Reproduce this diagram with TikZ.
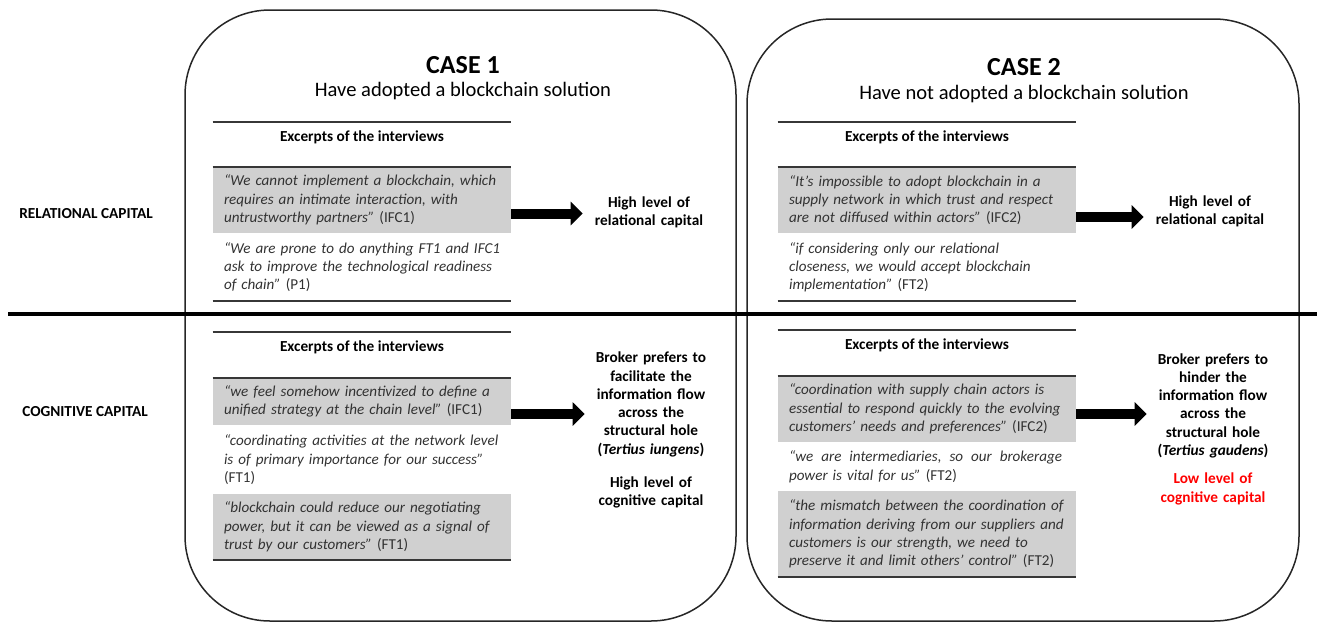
\documentclass[tikz,border=0pt]{standalone}
\usepackage{fontspec}
\setmainfont{Carlito}
\usetikzlibrary{arrows.meta, positioning}
\definecolor{rowgrey}{RGB}{208,208,208}
\definecolor{quotegrey}{RGB}{50,50,50}
\definecolor{rulegrey}{RGB}{55,55,55}

\begin{document}
\begin{tikzpicture}[x=0.02cm, y=-0.02cm]
	% Setup the styles for the boxes, the rows and the arrows
	\tikzset{case box/.style={draw=black!85, line width=0.03cm, rounded corners=1.7cm},
		label text/.style={font=\fontsize{8.7}{10.4}\selectfont\bfseries},
		excerpt head/.style={label text, minimum width=5.96cm, minimum height=0.6cm, inner sep=0pt},
		row/.style={text width=5.52cm, inner xsep=0.22cm, inner ysep=0pt, align=left,
			text=quotegrey, font=\fontsize{8.6}{10.4}\selectfont,
			execute at begin node={\rightskip=0pt plus 1fil minus 2cm\relax}},
		grey row/.style={row, fill=rowgrey},
		result/.style={label text, text width=2.3cm, inner sep=0pt, align=center},
		thin rule/.style={draw=rulegrey, line width=0.03cm},
		thick rule/.style={draw=rulegrey, line width=0.045cm},
		fat arrow/.style={line width=0.2cm, -{Triangle[length=0.24cm, width=0.46cm]}, shorten >=0.17cm}}
	
	\useasboundingbox (0,0) rectangle (1317,622);
	
	% the two cases
	\draw[case box] (185,10) rectangle (736,621);
	\draw[case box] (747,19) rectangle (1299,621);
	\draw[line width=0.07cm] (8,314) -- (1317,314);
	
	\node[font=\fontsize{14.8}{17}\selectfont\bfseries] (t1) at (463,65) {CASE 1};
	\node[font=\fontsize{11.7}{14}\selectfont] (s1) at (463,91) {Have adopted a blockchain solution};
	\node[font=\fontsize{14.8}{17}\selectfont\bfseries] (t2) at (1024,67) {CASE 2};
	\node[font=\fontsize{11.7}{14}\selectfont] (s2) at (1024,94) {Have not adopted a blockchain solution};
	
	\node[label text] (rel) at (86,214) {RELATIONAL CAPITAL};
	\node[label text] (cog) at (85,412) {COGNITIVE CAPITAL};
	
	% relational capital, case 1
	\node[excerpt head, anchor=north] (h1) at (362,122) {Excerpts of the interviews};
	\node[grey row, below=0.28cm of h1, minimum height=1.32cm] (q1)
		{\textit{“We cannot implement a blockchain, which\\requires an intimate interaction, with\\untrustworthy partners”} (IFC1)};
	\node[row, below=0pt of q1, minimum height=1.34cm] (q2)
		{\textit{“We are prone to do anything FT1 and IFC1\\ask to improve the technological readiness\\of chain”} (P1)};
	\node[result] (r1) at (649,212.5) {High level of\\relational capital};
	
	% relational capital, case 2
	\node[excerpt head, anchor=north] (h2) at (927,122) {Excerpts of the interviews};
	\node[grey row, below=0.28cm of h2, minimum height=1.32cm] (q3)
		{\textit{“It’s impossible to adopt blockchain in a\\supply network in which trust and respect\\are not diffused within actors”} (IFC2)};
	\node[row, below=0pt of q3, minimum height=1.34cm] (q4)
		{\textit{“if considering only our relational\\closeness, we would accept blockchain\\implementation”} (FT2)};
	\node[result] (r2) at (1210,211) {High level of\\relational capital};
	
	% cognitive capital, case 1
	\node[excerpt head, anchor=north] (h3) at (362,332) {Excerpts of the interviews};
	\node[grey row, below=0.3cm of h3, minimum height=0.94cm] (q5)
		{\textit{“we feel somehow incentivized to define a\\unified strategy at the chain level”} (IFC1)};
	\node[row, below=0pt of q5, minimum height=1.36cm] (q6)
		{\textit{“coordinating activities at the network level\\is of primary importance for our success”}\\(FT1)};
	\node[grey row, below=0pt of q6, minimum height=1.3cm] (q7)
		{\textit{“blockchain could reduce our negotiating\\power, but it can be viewed as a signal of\\trust by our customers”} (FT1)};
	\node[result] (r3) at (651,430) {Broker prefers to\\facilitate the\\information flow\\across the\\structural hole\\(\textit{Tertius iungens})\\[0.29cm]High level of\\cognitive capital};
	
	% cognitive capital, case 2
	\node[excerpt head, anchor=north] (h4) at (927,330) {Excerpts of the interviews};
	\node[grey row, below=0.3cm of h4, minimum height=1.32cm] (q8)
		{\textit{“coordination with supply chain actors is\\essential to respond quickly to the evolving\\customers’ needs and preferences”} (IFC2)};
	\node[row, below=0pt of q8, minimum height=0.96cm] (q9)
		{\makebox[5.46cm][l]{\itshape “we\hfill are\hfill intermediaries,\hfill so\hfill our\hfill brokerage}\\\textit{power is vital for us”} (FT2)};
	\node[grey row, below=0pt of q9, minimum height=1.7cm] (q10)
		{\textit{“the mismatch between the coordination of\\information deriving from our suppliers and\\customers is our strength, we need to\\preserve it and limit others’ control”} (FT2)};
	\node[result] (r4) at (1213,429) {Broker prefers to\\hinder the\\information flow\\across the\\structural hole\\(\textit{Tertius gaudens})\\[0.2cm]\textcolor{red}{Low level of\\cognitive capital}};
	
	% rules of the excerpt tables
	\draw[thin rule] (h1.north west) -- (h1.north east);
	\draw[thick rule] (q1.north west) -- (q1.north east);
	\draw[thick rule] (q2.south west) -- (q2.south east);
	\draw[thin rule] (h2.north west) -- (h2.north east);
	\draw[thick rule] (q3.north west) -- (q3.north east);
	\draw[thick rule] (q4.south west) -- (q4.south east);
	\draw[thin rule] (h3.north west) -- (h3.north east);
	\draw[thick rule] (q5.north west) -- (q5.north east);
	\draw[thick rule] (q7.south west) -- (q7.south east);
	\draw[thin rule] (h4.north west) -- (h4.north east);
	\draw[thick rule] (q8.north west) -- (q8.north east);
	\draw[thick rule] (q10.south west) -- (q10.south east);
	
	% arrows to the results
	\draw[fat arrow] ([yshift=-0.27cm]q1.east) -- ([yshift=-0.27cm]q1.east -| r1.west);
	\draw[fat arrow] ([yshift=-0.34cm]q3.east) -- ([yshift=-0.34cm]q3.east -| r2.west);
	\draw[fat arrow] ([yshift=-0.25cm]q5.east) -- ([yshift=-0.25cm]q5.east -| r3.west);
	\draw[fat arrow] ([yshift=-0.1cm]q8.east) -- ([yshift=-0.1cm]q8.east -| r4.west);
\end{tikzpicture}
\end{document}
